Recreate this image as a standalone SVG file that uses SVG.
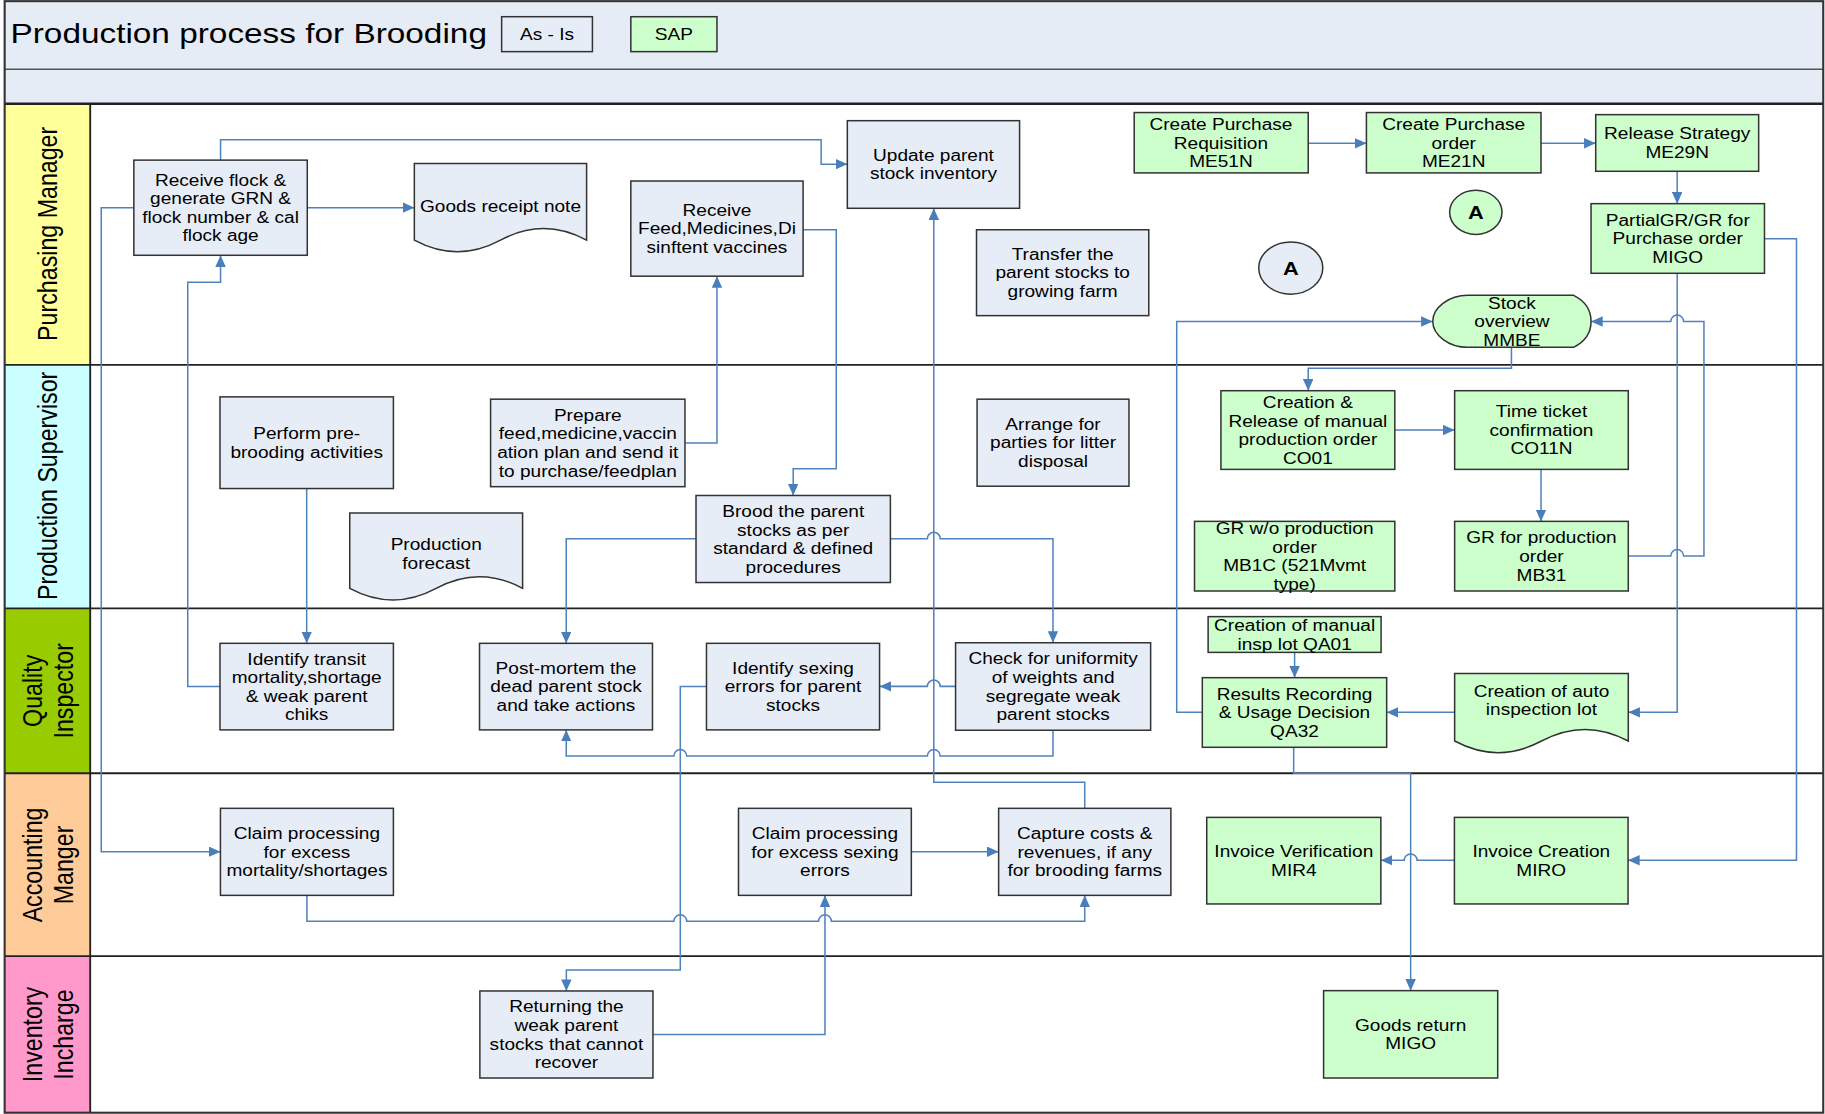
<svg xmlns="http://www.w3.org/2000/svg" width="1825" height="1114" viewBox="0 0 1825 1114">
<defs>
<style>
.t{font-family:"Liberation Sans",Arial,Helvetica,sans-serif;font-size:14px;text-anchor:middle;fill:#000}
.lane{font-family:"Liberation Sans",Arial,Helvetica,sans-serif;font-size:20px;text-anchor:middle;fill:#000}
.box{fill:#e7edf7;stroke:#333;stroke-width:1.3}
.sap{fill:#ccffcc;stroke:#333;stroke-width:1.3}
.c{fill:none;stroke:#4f81bd;stroke-width:1.3}
.a{marker-end:url(#arr)}
.ln{stroke:#222;stroke-width:1.6;fill:none}
</style>
<marker id="arr" viewBox="0 0 10 9" refX="10" refY="4.5" markerWidth="10" markerHeight="9" markerUnits="userSpaceOnUse" orient="auto">
<path d="M0,0 L10,4.5 L0,9 z" fill="#4a7ebb"/>
</marker>
</defs>
<rect width="1825" height="1114" fill="#fff"/>
<g transform="scale(1.1639,1.1604)">
<g id="frame">
<rect x="4" y="1" width="1562.5" height="88.4" fill="#e6ecf6"/>
<rect x="4" y="89.4" width="73.5" height="225.1" fill="#ffff99"/>
<rect x="4" y="314.5" width="73.5" height="209.8" fill="#ccffff"/>
<rect x="4" y="524.3" width="73.5" height="142.1" fill="#99cc00"/>
<rect x="4" y="666.4" width="73.5" height="157.5" fill="#ffcc99"/>
<rect x="4" y="823.9" width="73.5" height="135" fill="#ff99cc"/>
<line class="ln" x1="4" y1="59.7" x2="1566.5" y2="59.7" style="stroke:#555;stroke-width:1.3"/>
<line class="ln" x1="4" y1="89.4" x2="1566.5" y2="89.4" style="stroke-width:2"/>
<line class="ln" x1="4" y1="314.5" x2="1566.5" y2="314.5"/>
<line class="ln" x1="4" y1="524.3" x2="1566.5" y2="524.3"/>
<line class="ln" x1="4" y1="666.4" x2="1566.5" y2="666.4"/>
<line class="ln" x1="4" y1="823.9" x2="1566.5" y2="823.9"/>
<line class="ln" x1="77.5" y1="89.4" x2="77.5" y2="958.9"/>
<rect x="4" y="1" width="1562.5" height="957.9" fill="none" stroke="#333" stroke-width="1.8"/>
<text class="t" style="font-size:24.5px;text-anchor:start" transform="translate(9,36.8) scale(1.17,1)">Production process for Brooding</text>
<rect x="431" y="14.4" width="78" height="30.1" fill="#e7edf7" stroke="#333" stroke-width="1.3"/>
<text class="t" transform="translate(470,34.5) scale(1.17,1)">As - Is</text>
<rect x="542" y="14.4" width="74" height="30.1" fill="#ccffcc" stroke="#333" stroke-width="1.3"/>
<text class="t" transform="translate(579,34.5) scale(1.17,1)">SAP</text>
</g>
<g id="lane-labels">
<text class="lane" transform="translate(49,201.5) scale(1.17,1) rotate(-90)">Purchasing Manager</text>
<text class="lane" transform="translate(49,418.7) scale(1.17,1) rotate(-90)">Production Supervisor</text>
<text class="lane" transform="translate(0,595.3) scale(1.17,1) rotate(-90)"><tspan x="0" y="30.5">Quality</tspan><tspan x="0" y="53.5">Inspector</tspan></text>
<text class="lane" transform="translate(0,745.4) scale(1.17,1) rotate(-90)"><tspan x="0" y="30.5">Accounting</tspan><tspan x="0" y="53.5">Manger</tspan></text>
<text class="lane" transform="translate(0,891.5) scale(1.17,1) rotate(-90)"><tspan x="0" y="30.5">Inventory</tspan><tspan x="0" y="53.5">Incharge</tspan></text>
</g>
<g id="connectors">
<path class="c a" d="M189.5,138 V120.5 H705.5 V141.5 H728"/>
<path class="c a" d="M264,179 H356"/>
<path class="c a" d="M115,179 H87 V734 H189.4"/>
<path class="c a" d="M189,591.7 H161.3 V243.3 H189.5 V220"/>
<path class="c a" d="M263.5,421 V554.4"/>
<path class="c a" d="M588.4,381.8 H616 V238"/>
<path class="c a" d="M690,197.9 H718.5 V404 H681.5 V427"/>
<path class="c a" d="M598,464.2 H486.5 V554.4"/>
<path class="c a" d="M765,464.2 H796.8 a5.5,5.5 0 0 1 11,0 H904.7 V553.9"/>
<path class="c a" d="M821,591.5 H807.8 a5.5,5.5 0 0 0 -11,0 H755.7"/>
<path class="c a" d="M904.7,629.3 V651.5 H807.8 a5.5,5.5 0 0 0 -11,0 H590 a5.5,5.5 0 0 0 -11,0 H486.5 V629"/>
<path class="c a" d="M607,591.7 H584.5 V835.9 H486.6 V854"/>
<path class="c a" d="M932,696.6 V674.2 H802.3 V179.5"/>
<path class="c a" d="M783,734 H858"/>
<path class="c a" d="M263.7,771.6 V793.9 H579 a5.5,5.5 0 0 1 11,0 H703.3 a5.5,5.5 0 0 1 11,0 H932 V771.6"/>
<path class="c a" d="M561,891.4 H708.8 V771.6"/>
<path class="c a" d="M1124,123.5 H1174"/>
<path class="c a" d="M1324,123.5 H1371"/>
<path class="c a" d="M1441,147.6 V175.5"/>
<path class="c a" d="M1441,235.5 V613.9 H1399"/>
<path class="c a" d="M1516,205.7 H1543.5 V741.4 H1398.8"/>
<path class="c a" d="M1298.6,299.3 V317.4 H1124 V336.7"/>
<path class="c a" d="M1198.4,370.6 H1249.8"/>
<path class="c a" d="M1324,404.5 V449.3"/>
<path class="c a" d="M1399,479.1 H1435.5 a5.5,5.5 0 0 1 11,0 H1464 V277 H1446.5 a5.5,5.5 0 0 0 -11,0 H1367"/>
<path class="c a" d="M1033,613.9 H1011 V277 H1231"/>
<path class="c a" d="M1249.8,613.9 H1191.4"/>
<path class="c a" d="M1112.3,562.2 V584"/>
<path class="c a" d="M1111.5,644 V666.4 H1212 V853.7"/>
<path class="c a" d="M1249.6,741.4 H1217.5 a5.5,5.5 0 0 0 -11,0 H1186.4"/>
</g>
<g id="receive-flock"><rect class="box" x="115" y="138" width="149" height="82"/>
<text class="t" transform="translate(189.5,179) scale(1.17,1)"><tspan x="0" y="-19">Receive flock &amp;</tspan><tspan x="0" y="-3">generate GRN &amp;</tspan><tspan x="0" y="13">flock number &amp; cal</tspan><tspan x="0" y="29">flock age</tspan></text></g>
<g id="goods-receipt-note"><path class="box" d="M356,141 H504 V207 Q467,187 430,207 T356,207 Z"/>
<text class="t" transform="translate(430,178) scale(1.17,1)"><tspan x="0" y="5">Goods receipt note</tspan></text></g>
<g id="receive-feed"><rect class="box" x="542" y="156" width="148" height="82"/>
<text class="t" transform="translate(616,197) scale(1.17,1)"><tspan x="0" y="-11">Receive</tspan><tspan x="0" y="5">Feed,Medicines,Di</tspan><tspan x="0" y="21">sinftent vaccines</tspan></text></g>
<g id="update-parent"><rect class="box" x="728" y="104" width="148" height="75.5"/>
<text class="t" transform="translate(802,141.5) scale(1.17,1)"><tspan x="0" y="-3">Update parent</tspan><tspan x="0" y="13">stock inventory</tspan></text></g>
<g id="transfer-stocks"><rect class="box" x="839" y="198" width="148" height="74"/>
<text class="t" transform="translate(913,235) scale(1.17,1)"><tspan x="0" y="-11">Transfer the</tspan><tspan x="0" y="5">parent stocks to</tspan><tspan x="0" y="21">growing farm</tspan></text></g>
<g id="connector-a-1"><ellipse cx="1109" cy="231" rx="27.5" ry="22.5" fill="#e7edf7" stroke="#333" stroke-width="1.3"/>
<text class="t" style="font-size:16px;font-weight:bold" transform="translate(1109,231) scale(1.17,1)"><tspan x="0" y="6">A</tspan></text></g>
<g id="connector-a-2"><ellipse cx="1268" cy="183" rx="22.5" ry="19" fill="#ccffcc" stroke="#333" stroke-width="1.3"/>
<text class="t" style="font-size:16px;font-weight:bold" transform="translate(1268,183) scale(1.17,1)"><tspan x="0" y="6">A</tspan></text></g>
<g id="create-pr"><rect class="sap" x="974.5" y="97" width="149.5" height="52"/>
<text class="t" transform="translate(1049,123) scale(1.17,1)"><tspan x="0" y="-11">Create Purchase</tspan><tspan x="0" y="5">Requisition</tspan><tspan x="0" y="21">ME51N</tspan></text></g>
<g id="create-po"><rect class="sap" x="1174" y="97" width="150" height="52"/>
<text class="t" transform="translate(1249,123) scale(1.17,1)"><tspan x="0" y="-11">Create Purchase</tspan><tspan x="0" y="5">order</tspan><tspan x="0" y="21">ME21N</tspan></text></g>
<g id="release-strategy"><rect class="sap" x="1371" y="98.8" width="140" height="48.8"/>
<text class="t" transform="translate(1441,123.2) scale(1.17,1)"><tspan x="0" y="-3">Release Strategy</tspan><tspan x="0" y="13">ME29N</tspan></text></g>
<g id="partial-gr"><rect class="sap" x="1367" y="175.5" width="149" height="60"/>
<text class="t" transform="translate(1441.5,205.5) scale(1.17,1)"><tspan x="0" y="-11">PartialGR/GR for</tspan><tspan x="0" y="5">Purchase order</tspan><tspan x="0" y="21">MIGO</tspan></text></g>
<g id="stock-overview"><path class="sap" d="M1261,254.5 H1352 Q1367,262 1367,276.9 Q1367,292 1352,299.3 H1261 C1245,299.3 1231,289 1231,276.9 C1231,265 1245,254.5 1261,254.5 Z"/>
<text class="t" transform="translate(1299,277.2) scale(1.17,1)"><tspan x="0" y="-11">Stock</tspan><tspan x="0" y="5">overview</tspan><tspan x="0" y="21">MMBE</tspan></text></g>
<g id="perform-pre-brooding"><rect class="box" x="189" y="342" width="149" height="79"/>
<text class="t" transform="translate(263.5,381.5) scale(1.17,1)"><tspan x="0" y="-3">Perform pre-</tspan><tspan x="0" y="13">brooding activities</tspan></text></g>
<g id="prepare-plan"><rect class="box" x="421.5" y="344" width="167" height="75.4"/>
<text class="t" transform="translate(505,381.7) scale(1.17,1)"><tspan x="0" y="-19">Prepare</tspan><tspan x="0" y="-3">feed,medicine,vaccin</tspan><tspan x="0" y="13">ation plan and send it</tspan><tspan x="0" y="29">to purchase/feedplan</tspan></text></g>
<g id="production-forecast"><path class="box" d="M300.5,442 H449 V507 Q411.9,487 374.75,507 T300.5,507 Z"/>
<text class="t" transform="translate(374.75,477) scale(1.17,1)"><tspan x="0" y="-3">Production</tspan><tspan x="0" y="13">forecast</tspan></text></g>
<g id="brood-parent"><rect class="box" x="598" y="427" width="167" height="75"/>
<text class="t" transform="translate(681.5,464.5) scale(1.17,1)"><tspan x="0" y="-19">Brood the parent</tspan><tspan x="0" y="-3">stocks as per</tspan><tspan x="0" y="13">standard &amp; defined</tspan><tspan x="0" y="29">procedures</tspan></text></g>
<g id="arrange-litter"><rect class="box" x="839.5" y="344" width="130.5" height="75"/>
<text class="t" transform="translate(904.75,381.5) scale(1.17,1)"><tspan x="0" y="-11">Arrange for</tspan><tspan x="0" y="5">parties for litter</tspan><tspan x="0" y="21">disposal</tspan></text></g>
<g id="creation-release-co01"><rect class="sap" x="1049" y="336.7" width="149.4" height="67.8"/>
<text class="t" transform="translate(1123.7,370.6) scale(1.17,1)"><tspan x="0" y="-19">Creation &amp;</tspan><tspan x="0" y="-3">Release of manual</tspan><tspan x="0" y="13">production order</tspan><tspan x="0" y="29">CO01</tspan></text></g>
<g id="time-ticket"><rect class="sap" x="1249.8" y="336.7" width="149.2" height="67.8"/>
<text class="t" transform="translate(1324.4,370.6) scale(1.17,1)"><tspan x="0" y="-11">Time ticket</tspan><tspan x="0" y="5">confirmation</tspan><tspan x="0" y="21">CO11N</tspan></text></g>
<g id="gr-wo-production"><rect class="sap" x="1026.3" y="449.3" width="172.1" height="60"/>
<text class="t" transform="translate(1112.3,479.3) scale(1.17,1)"><tspan x="0" y="-19">GR w/o production</tspan><tspan x="0" y="-3">order</tspan><tspan x="0" y="13">MB1C (521Mvmt</tspan><tspan x="0" y="29">type)</tspan></text></g>
<g id="gr-production"><rect class="sap" x="1249.8" y="449.3" width="149.2" height="60"/>
<text class="t" transform="translate(1324.4,479.3) scale(1.17,1)"><tspan x="0" y="-11">GR for production</tspan><tspan x="0" y="5">order</tspan><tspan x="0" y="21">MB31</tspan></text></g>
<g id="identify-transit"><rect class="box" x="189" y="554.4" width="149" height="74.6"/>
<text class="t" transform="translate(263.5,591.7) scale(1.17,1)"><tspan x="0" y="-19">Identify transit</tspan><tspan x="0" y="-3">mortality,shortage</tspan><tspan x="0" y="13">&amp; weak parent</tspan><tspan x="0" y="29">chiks</tspan></text></g>
<g id="post-mortem"><rect class="box" x="412" y="554.4" width="148.6" height="74.6"/>
<text class="t" transform="translate(486.3,591.7) scale(1.17,1)"><tspan x="0" y="-11">Post-mortem the</tspan><tspan x="0" y="5">dead parent stock</tspan><tspan x="0" y="21">and take actions</tspan></text></g>
<g id="identify-sexing"><rect class="box" x="607" y="554.4" width="148.7" height="74.6"/>
<text class="t" transform="translate(681.35,591.7) scale(1.17,1)"><tspan x="0" y="-11">Identify sexing</tspan><tspan x="0" y="5">errors for parent</tspan><tspan x="0" y="21">stocks</tspan></text></g>
<g id="check-uniformity"><rect class="box" x="821" y="553.9" width="167.6" height="75.4"/>
<text class="t" transform="translate(904.8,591.6) scale(1.17,1)"><tspan x="0" y="-19">Check for uniformity</tspan><tspan x="0" y="-3">of weights and</tspan><tspan x="0" y="13">segregate weak</tspan><tspan x="0" y="29">parent stocks</tspan></text></g>
<g id="manual-insp-lot"><rect class="sap" x="1038" y="531.4" width="148.6" height="30.8"/>
<text class="t" transform="translate(1112.3,546.8) scale(1.17,1)"><tspan x="0" y="-3">Creation of manual</tspan><tspan x="0" y="13">insp lot QA01</tspan></text></g>
<g id="results-recording"><rect class="sap" x="1033" y="584" width="158.4" height="60"/>
<text class="t" transform="translate(1112.2,614) scale(1.17,1)"><tspan x="0" y="-11">Results Recording</tspan><tspan x="0" y="5">&amp; Usage Decision</tspan><tspan x="0" y="21">QA32</tspan></text></g>
<g id="auto-insp-lot"><path class="sap" d="M1249.8,580.5 H1399 V638.6 Q1361.7,618.6 1324.4,638.6 T1249.8,638.6 Z"/>
<text class="t" transform="translate(1324.4,603.5) scale(1.17,1)"><tspan x="0" y="-3">Creation of auto</tspan><tspan x="0" y="13">inspection lot</tspan></text></g>
<g id="claim-mortality"><rect class="box" x="189.4" y="696.6" width="148.6" height="75"/>
<text class="t" transform="translate(263.7,734.1) scale(1.17,1)"><tspan x="0" y="-11">Claim processing</tspan><tspan x="0" y="5">for excess</tspan><tspan x="0" y="21">mortality/shortages</tspan></text></g>
<g id="claim-sexing"><rect class="box" x="634.5" y="696.6" width="148.5" height="75"/>
<text class="t" transform="translate(708.75,734.1) scale(1.17,1)"><tspan x="0" y="-11">Claim processing</tspan><tspan x="0" y="5">for excess sexing</tspan><tspan x="0" y="21">errors</tspan></text></g>
<g id="capture-costs"><rect class="box" x="858" y="696.6" width="148" height="75"/>
<text class="t" transform="translate(932,734.1) scale(1.17,1)"><tspan x="0" y="-11">Capture costs &amp;</tspan><tspan x="0" y="5">revenues, if any</tspan><tspan x="0" y="21">for brooding farms</tspan></text></g>
<g id="invoice-verification"><rect class="sap" x="1036.8" y="704.4" width="149.6" height="74.6"/>
<text class="t" transform="translate(1111.6,741.7) scale(1.17,1)"><tspan x="0" y="-3">Invoice Verification</tspan><tspan x="0" y="13">MIR4</tspan></text></g>
<g id="invoice-creation"><rect class="sap" x="1249.6" y="704.4" width="149.2" height="74.6"/>
<text class="t" transform="translate(1324.2,741.7) scale(1.17,1)"><tspan x="0" y="-3">Invoice Creation</tspan><tspan x="0" y="13">MIRO</tspan></text></g>
<g id="returning-weak"><rect class="box" x="412.3" y="854" width="148.7" height="75"/>
<text class="t" transform="translate(486.65,891.5) scale(1.17,1)"><tspan x="0" y="-19">Returning the</tspan><tspan x="0" y="-3">weak parent</tspan><tspan x="0" y="13">stocks that cannot</tspan><tspan x="0" y="29">recover</tspan></text></g>
<g id="goods-return"><rect class="sap" x="1137.2" y="853.7" width="149.6" height="75.3"/>
<text class="t" transform="translate(1212,891.3) scale(1.17,1)"><tspan x="0" y="-3">Goods return</tspan><tspan x="0" y="13">MIGO</tspan></text></g>
</g>
</svg>
